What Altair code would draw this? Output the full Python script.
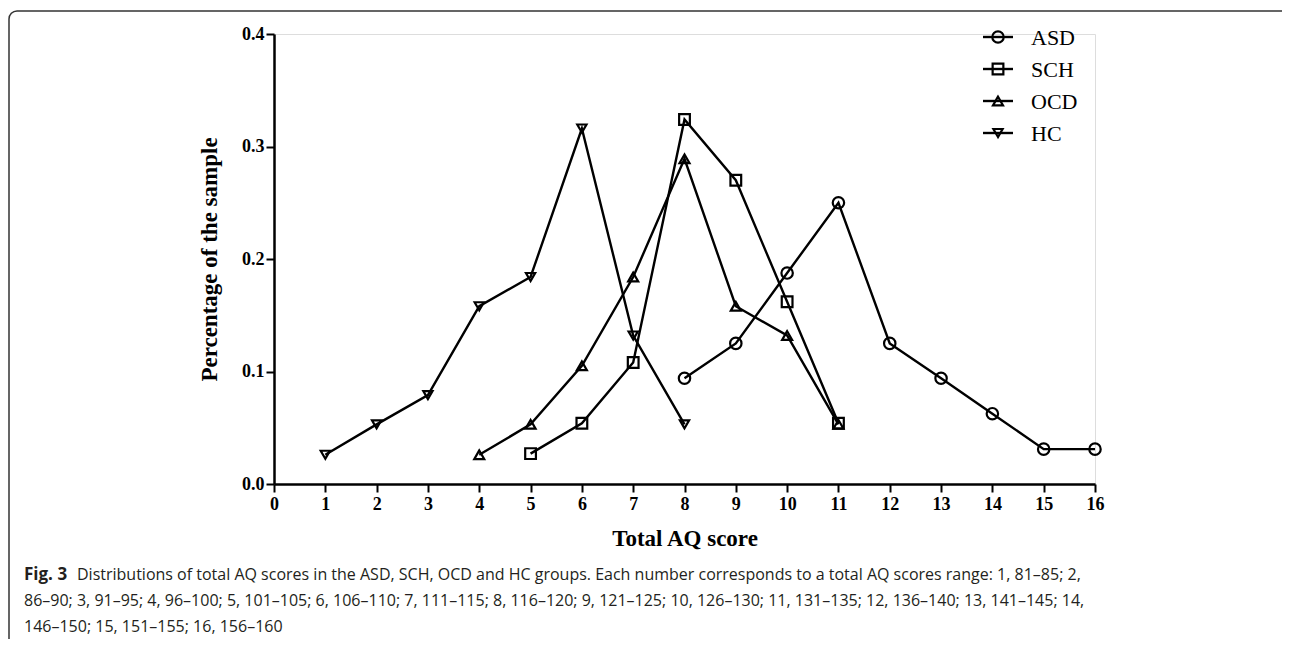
import altair as alt
import pandas as pd

groups = ["ASD", "SCH", "OCD", "HC"]
legend_rank = [0, 1, 2, 3]
shapes = ["circle", "square", "triangle-up", "triangle-down"]
sizes = [130, 85, 220, 220]

asd_x = [8, 9, 10, 11, 12, 13, 14, 15, 16]
asd_y = [0.094, 0.125, 0.1875, 0.25, 0.125, 0.094, 0.0625, 0.031, 0.031]
sch_x = [5, 6, 7, 8, 9, 10, 11]
sch_y = [0.027, 0.054, 0.108, 0.324, 0.270, 0.162, 0.054]
ocd_x = [4, 5, 6, 7, 8, 9, 10, 11]
ocd_y = [0.026, 0.053, 0.105, 0.184, 0.289, 0.158, 0.132, 0.053]
hc_x = [1, 2, 3, 4, 5, 6, 7, 8]
hc_y = [0.026, 0.053, 0.079, 0.158, 0.184, 0.316, 0.132, 0.053]

x_ticks = list(range(0, 17))
y_ticks = [0.0, 0.1, 0.2, 0.3, 0.4]

x_title = "Total AQ score"
y_title = "Percentage of the sample"
fig_label = "Fig. 3"
caption_1 = ("Distributions of total AQ scores in the ASD, SCH, OCD and HC groups. "
             "Each number corresponds to a total AQ scores range: 1, 81\u201385; 2,")
caption_2 = ("86\u201390; 3, 91\u201395; 4, 96\u2013100; 5, 101\u2013105; 6, 106\u2013110; "
             "7, 111\u2013115; 8, 116\u2013120; 9, 121\u2013125; 10, 126\u2013130; 11, 131\u2013135; "
             "12, 136\u2013140; 13, 141\u2013145; 14,")
caption_3 = "146\u2013150; 15, 151\u2013155; 16, 156\u2013160"

rows = []
for g, xs, ys in [("ASD", asd_x, asd_y), ("SCH", sch_x, sch_y),
                  ("OCD", ocd_x, ocd_y), ("HC", hc_x, hc_y)]:
    for a, b in zip(xs, ys):
        rows.append({"group": g, "score": a, "pct": b})
df = pd.DataFrame(rows)

SERIF = "Liberation Serif"
W, H = 821, 450

x_enc = alt.X("score:Q",
              scale=alt.Scale(domain=[0, 16], nice=False, zero=True),
              axis=alt.Axis(values=x_ticks, format="d", title=x_title,
                            labelFont=SERIF, labelFontWeight="bold", labelFontSize=18,
                            labelColor="black", labelPadding=3, labelFlush=False,
                            tickColor="black", tickSize=8, tickWidth=2,
                            domainColor="black", domainWidth=2.5, grid=False,
                            titleFont=SERIF, titleFontWeight="bold", titleFontSize=23,
                            titleColor="black", titlePadding=14))
y_enc = alt.Y("pct:Q",
              scale=alt.Scale(domain=[0, 0.4], nice=False),
              axis=alt.Axis(values=y_ticks, format=".1f", title=y_title,
                            labelFont=SERIF, labelFontWeight="bold", labelFontSize=18,
                            labelColor="black", labelPadding=2, labelFlush=False,
                            tickColor="black", tickSize=8, tickWidth=2,
                            domainColor="black", domainWidth=2.5, grid=False,
                            titleFont=SERIF, titleFontWeight="bold", titleFontSize=23,
                            titleColor="black", titlePadding=20))

shape_scale = alt.Scale(domain=groups, range=shapes)
size_scale = alt.Scale(domain=groups, range=sizes)

lines = alt.Chart(df).mark_line(color="black", strokeWidth=2.4).encode(
    x=x_enc, y=y_enc, detail="group:N")
points = alt.Chart(df).mark_point(filled=False, color="black", strokeWidth=2.2, opacity=1).encode(
    x=x_enc, y=y_enc,
    shape=alt.Shape("group:N", scale=shape_scale, legend=None),
    size=alt.Size("group:N", scale=size_scale, legend=None))
main = alt.layer(lines, points)

leg_df = pd.DataFrame({"group": groups, "rank": legend_rank})
leg_y = alt.Y("rank:Q", scale=alt.Scale(domain=[0, 3], range=[3, 99], nice=False, zero=False),
              axis=None)
leg_rule = alt.Chart(leg_df).mark_rule(color="black", strokeWidth=2.4).encode(
    x=alt.value(709), x2=alt.value(739), y=leg_y)
leg_pt = alt.Chart(leg_df).mark_point(filled=False, color="black", strokeWidth=2.2, opacity=1).encode(
    x=alt.value(724), y=leg_y,
    shape=alt.Shape("group:N", scale=shape_scale, legend=None),
    size=alt.Size("group:N", scale=size_scale, legend=None))
leg_txt = alt.Chart(leg_df).mark_text(align="left", baseline="middle", font=SERIF,
                                      fontSize=22, color="black", dy=1).encode(
    x=alt.value(757), y=leg_y, text="group:N")
legend = alt.layer(leg_rule, leg_pt, leg_txt)

one = pd.DataFrame({"k": [0]})
CAP = "Open Sans"
cap_col = "#231f20"
cap_fig = alt.Chart(one).mark_text(align="left", baseline="alphabetic", font=CAP,
                                   fontSize=17, fontWeight="bold", color=cap_col).encode(
    x=alt.value(-250), y=alt.value(546), text=alt.value(fig_label))
cap_l1 = alt.Chart(one).mark_text(align="left", baseline="alphabetic", font=CAP,
                                  fontSize=16, color=cap_col).encode(
    x=alt.value(-197), y=alt.value(546), text=alt.value(caption_1))
cap_l2 = alt.Chart(one).mark_text(align="left", baseline="alphabetic", font=CAP,
                                  fontSize=16, color=cap_col).encode(
    x=alt.value(-250), y=alt.value(572), text=alt.value(caption_2))
cap_l3 = alt.Chart(one).mark_text(align="left", baseline="alphabetic", font=CAP,
                                  fontSize=16, color=cap_col).encode(
    x=alt.value(-250), y=alt.value(598), text=alt.value(caption_3))
border = alt.Chart(one).mark_rect(fillOpacity=0, stroke="#333333", strokeWidth=1.5,
                                  cornerRadius=8).encode(
    x=alt.value(-265), x2=alt.value(1030), y=alt.value(-23), y2=alt.value(700))
deco = alt.layer(border, cap_fig, cap_l1, cap_l2, cap_l3)

chart = alt.layer(main, legend, deco).resolve_scale(y="independent").properties(
    width=W, height=H,
    autosize=alt.AutoSizeParams(type="none"),
    padding={"left": 266, "top": 26, "right": 187, "bottom": 155},
).configure_view(stroke=None).configure(background="white")

chart.save("out.html", embed_options={"renderer": "svg", "actions": False})
